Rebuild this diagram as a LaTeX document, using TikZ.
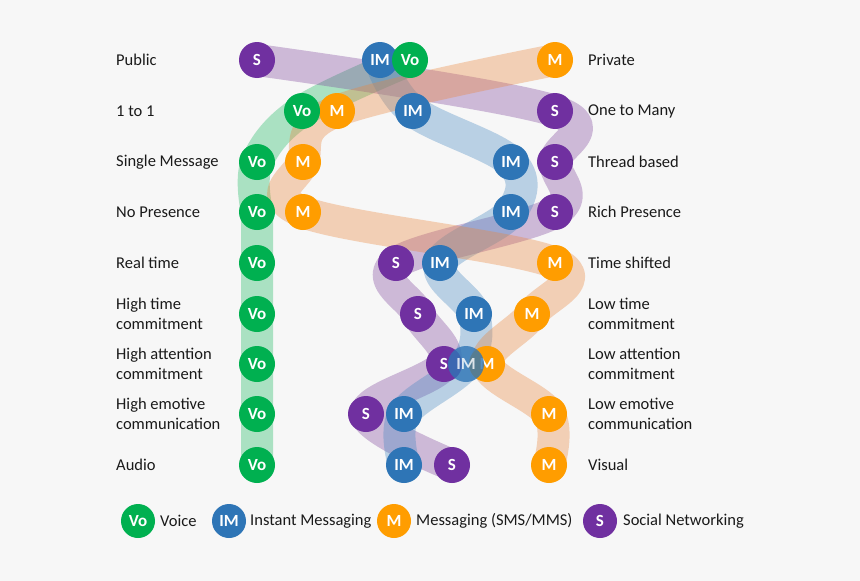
\documentclass[tikz,border=0pt]{standalone}
\usepackage{fontspec}
\setmainfont{Carlito}
\usetikzlibrary{backgrounds}
\definecolor{colvo}{HTML}{00B050}
\definecolor{colim}{HTML}{2E75B6}
\definecolor{colms}{HTML}{FF9D00}
\definecolor{colsn}{HTML}{7030A0}
\definecolor{bandvo}{HTML}{1BB862}
\definecolor{bandim}{HTML}{4688C1}
\definecolor{bandms}{HTML}{EB853A}
\definecolor{bandsn}{HTML}{7F469C}
\definecolor{bgc}{HTML}{F7F7F7}
\definecolor{txt}{HTML}{1A1A1A}
\begin{document}
\begin{tikzpicture}[x=1pt,y=-1pt,
  dot/.style={circle,minimum size=36pt,inner sep=0pt,text=white,font=\fontsize{17}{17}\selectfont\bfseries},
  ldot/.style={dot,minimum size=34pt},
  vo/.style={fill=colvo},
  im/.style={fill=colim},
  ms/.style={fill=colms},
  sn/.style={fill=colsn},
  band/.style={line width=32pt,opacity=0.35,line cap=round,line join=round},
  lab/.style={anchor=west,align=left,inner sep=0pt,text=txt,font=\fontsize{16.5}{20}\selectfont},
]
\useasboundingbox (0,0) rectangle (860,581);
% rows
\def\ra{60}\def\rb{111}\def\rc{162}\def\rd{212}\def\re{263}\def\rf{314}\def\rg{364}\def\rh{414}\def\ri{465}
% left labels
\node[lab] (l1) at (116,\ra) {Public};
\node[lab] (l2) at (116,\rb) {1 to 1};
\node[lab] (l3) at (116,\rc) {Single Message};
\node[lab] (l4) at (116,\rd) {No Presence};
\node[lab] (l5) at (116,\re) {Real time};
\node[lab] (l6) at (116,\rf) {High time\\commitment};
\node[lab] (l7) at (116,\rg) {High attention\\commitment};
\node[lab] (l8) at (116,\rh) {High emotive\\communication};
\node[lab] (l9) at (116,\ri) {Audio};
% right labels
\node[lab] (r1) at (588,\ra) {Private};
\node[lab] (r2) at (588,\rb) {One to Many};
\node[lab] (r3) at (588,\rc) {Thread based};
\node[lab] (r4) at (588,\rd) {Rich Presence};
\node[lab] (r5) at (588,\re) {Time shifted};
\node[lab] (r6) at (588,\rf) {Low time\\commitment};
\node[lab] (r7) at (588,\rg) {Low attention\\commitment};
\node[lab] (r8) at (588,\rh) {Low emotive\\communication};
\node[lab] (r9) at (588,\ri) {Visual};
% Social networking
\node[dot,sn] (s1) at (257,\ra) {S};
\node[dot,sn] (s2) at (555,\rb) {S};
\node[dot,sn] (s3) at (555,\rc) {S};
\node[dot,sn] (s4) at (555,\rd) {S};
\node[dot,sn] (s5) at (396,\re) {S};
\node[dot,sn] (s6) at (418,\rf) {S};
\node[dot,sn] (s7) at (444,\rg) {S};
\node[dot,sn] (s8) at (366,\rh) {S};
\node[dot,sn] (s9) at (452,\ri) {S};
% Messaging
\node[dot,ms] (m1) at (555,\ra) {M};
\node[dot,ms] (m2) at (337,\rb) {M};
\node[dot,ms] (m3) at (303,\rc) {M};
\node[dot,ms] (m4) at (303,\rd) {M};
\node[dot,ms] (m5) at (555,\re) {M};
\node[dot,ms] (m6) at (532,\rf) {M};
\node[dot,ms] (m7) at (487,\rg) {M};
\node[dot,ms] (m8) at (549,\rh) {M};
\node[dot,ms] (m9) at (549,\ri) {M};
% Instant messaging
\node[dot,im] (i1) at (380,\ra) {IM};
\node[dot,im] (i2) at (413,\rb) {IM};
\node[dot,im] (i3) at (511,\rc) {IM};
\node[dot,im] (i4) at (511,\rd) {IM};
\node[dot,im] (i5) at (440,\re) {IM};
\node[dot,im] (i6) at (474,\rf) {IM};
\node[dot,im,fill opacity=0.8] (i7) at (466,\rg) {IM};
\node[dot,im] (i8) at (404,\rh) {IM};
\node[dot,im] (i9) at (404,\ri) {IM};
% Voice
\node[dot,vo] (v1) at (410,\ra) {Vo};
\node[dot,vo] (v2) at (302,\rb) {Vo};
\node[dot,vo] (v3) at (257,\rc) {Vo};
\node[dot,vo] (v4) at (257,\rd) {Vo};
\node[dot,vo] (v5) at (257,\re) {Vo};
\node[dot,vo] (v6) at (257,\rf) {Vo};
\node[dot,vo] (v7) at (257,\rg) {Vo};
\node[dot,vo] (v8) at (257,\rh) {Vo};
\node[dot,vo] (v9) at (257,\ri) {Vo};
% legend
\node[ldot,vo] (lv) at (138,521) {Vo};
\node[lab] (lvt) at (160,521) {Voice};
\node[ldot,im] (li) at (229,521) {IM};
\node[lab] (lit) at (250,521) {Instant Messaging};
\node[ldot,ms] (lm) at (394,521) {M};
\node[lab] (lmt) at (416,521) {Messaging (SMS/MMS)};
\node[ldot,sn] (ls) at (600,521) {S};
\node[lab] (lst) at (623,521) {Social Networking};
% bands
\begin{scope}[on background layer]
\fill[bgc] (0,0) rectangle (860,581);
\draw[band,bandvo] plot[smooth,tension=0.6] coordinates {(v1.center) (v2.center) (v3.center) (v4.center)} -- (v9.center);
\draw[band,bandsn] plot[smooth,tension=0.6] coordinates {(s1.center) (s2.center) (s3.center) (s4.center) (s5.center) (s6.center) (s7.center) (s8.center) (s9.center)};
\draw[band,bandim] plot[smooth,tension=0.6] coordinates {(i1.center) (i2.center) (i3.center) (i4.center) (i5.center) (i6.center) (i7.center) (i8.center) (i9.center)};
\draw[band,bandms] plot[smooth,tension=0.6] coordinates {(m1.center) (m2.center) (m3.center) (m4.center) (m5.center) (m6.center) (m7.center) (m8.center) (m9.center)};
\end{scope}
\end{tikzpicture}
\end{document}
